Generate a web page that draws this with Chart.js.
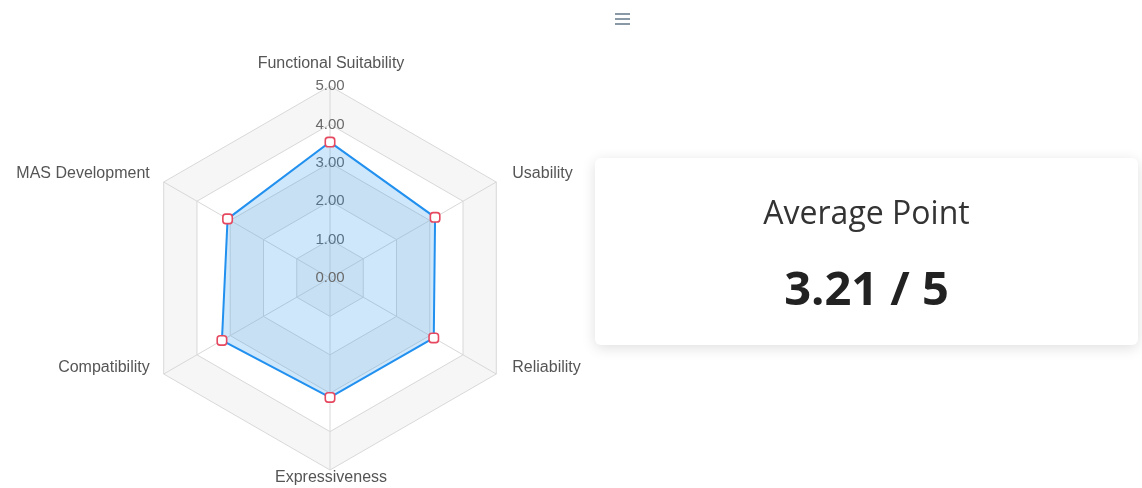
<!DOCTYPE html>
<html>
<head>
<meta charset="utf-8">
<script src="https://cdn.jsdelivr.net/npm/chart.js@4.4.1/dist/chart.umd.min.js"></script>
<style>
  html, body { margin: 0; padding: 0; background: #ffffff; width: 1142px; height: 488px; overflow: hidden; }
  #chartBox { position: absolute; left: 0; top: 0; width: 661px; height: 488px; }
  #menu { position: absolute; left: 615px; top: 13px; width: 15px; height: 11px; }
  #menu span { display: block; height: 2px; background: #8a99a6; margin-bottom: 3px; }
  #card { position: absolute; left: 595px; top: 158px; width: 543px; height: 187px; background: #fff;
          border-radius: 6px; box-shadow: 0 3px 14px rgba(0,0,0,0.13); text-align: center;
          font-family: "Open Sans", "Noto Sans", sans-serif; color: #222; }
  #card .title { position: absolute; left: 0; right: 0; top: 32px; font-size: 32px; font-weight: 400; color: #333; line-height: normal; }
  #card .value { position: absolute; left: 0; right: 0; top: 97px; font-size: 47px; font-weight: 700; color: #222; line-height: normal; }
</style>
</head>
<body>
<div id="chartBox"><canvas id="c" width="661" height="488"></canvas></div>
<div id="menu"><span></span><span></span><span></span></div>
<div id="card"><div class="title">Average Point</div><div class="value" id="avg"></div></div>
<script>
const categories = ['Functional Suitability', 'Usability', 'Reliability', 'Expressiveness', 'Compatibility', 'MAS Development'];
const scores = [3.54, 3.16, 3.12, 3.11, 3.25, 3.08];
const tickValues = [0, 1, 2, 3, 4, 5];
const maxScore = 5;

const avg = scores.reduce((a, b) => a + b, 0) / scores.length;
document.getElementById('avg').textContent = avg.toFixed(2) + ' / ' + maxScore;

const FONT = '"Liberation Sans", Arial, sans-serif';

const bandPlugin = {
  id: 'bands',
  beforeDraw(chart) {
    const s = chart.scales.r;
    const ctx = chart.ctx;
    ctx.save();
    for (let k = tickValues.length - 1; k >= 1; k--) {
      const d = s.getDistanceFromCenterForValue(tickValues[k]);
      ctx.beginPath();
      for (let i = 0; i < categories.length; i++) {
        const p = s.getPointPosition(i, d);
        if (i === 0) ctx.moveTo(p.x, p.y); else ctx.lineTo(p.x, p.y);
      }
      ctx.closePath();
      ctx.fillStyle = (k % 2 === 1) ? '#f6f6f6' : '#ffffff';
      ctx.fill();
    }
    ctx.restore();
  },
  afterDraw(chart) {
    const s = chart.scales.r;
    const ctx = chart.ctx;
    ctx.save();
    // zero tick label (Chart.js skips the min tick)
    ctx.font = '15px ' + FONT;
    ctx.fillStyle = '#6a6a6a';
    ctx.textAlign = 'center';
    ctx.textBaseline = 'middle';
    ctx.fillText(tickValues[0].toFixed(2), s.xCenter, s.yCenter);
    // category labels
    ctx.font = '16px ' + FONT;
    ctx.fillStyle = '#555555';
    for (let i = 0; i < categories.length; i++) {
      const p = s.getPointPosition(i, s.drawingArea);
      let x = p.x, y = p.y;
      if (Math.abs(p.x - s.xCenter) < 1) {
        ctx.textAlign = 'center';
        y += (p.y < s.yCenter) ? -22 : 8;
        x += 1;
      } else if (p.x > s.xCenter) {
        ctx.textAlign = 'left';
        x += 16;
        y += (p.y < s.yCenter) ? -8 : -6;
      } else {
        ctx.textAlign = 'right';
        x -= 14;
        y += (p.y < s.yCenter) ? -8 : -6;
      }
      ctx.fillText(categories[i], x, y);
    }
    ctx.restore();
  }
};

new Chart(document.getElementById('c'), {
  type: 'radar',
  data: {
    labels: categories,
    datasets: [{
      data: scores,
      borderColor: '#2190ef',
      backgroundColor: 'rgba(33,144,239,0.22)',
      borderWidth: 2,
      fill: true,
      pointStyle: 'rectRounded',
      pointRadius: 5.5,
      pointBorderWidth: 1.6,
      pointBorderColor: '#e5485f',
      pointBackgroundColor: '#ffffff'
    }]
  },
  options: {
    responsive: false,
    animation: false,
    layout: { padding: { top: 79, bottom: 10, left: 0, right: 0 } },
    plugins: { legend: { display: false }, tooltip: { enabled: false } },
    scales: {
      r: {
        min: 0,
        max: maxScore,
        ticks: {
          stepSize: 1,
          showLabelBackdrop: false,
          backdropPadding: 0,
          color: '#6a6a6a',
          font: { size: 15, family: FONT },
          callback: v => Number(v).toFixed(2)
        },
        pointLabels: { display: false },
        grid: { color: '#d8d8d8', lineWidth: 1 },
        angleLines: { color: '#d8d8d8', lineWidth: 1 }
      }
    }
  },
  plugins: [bandPlugin]
});
</script>
</body>
</html>
